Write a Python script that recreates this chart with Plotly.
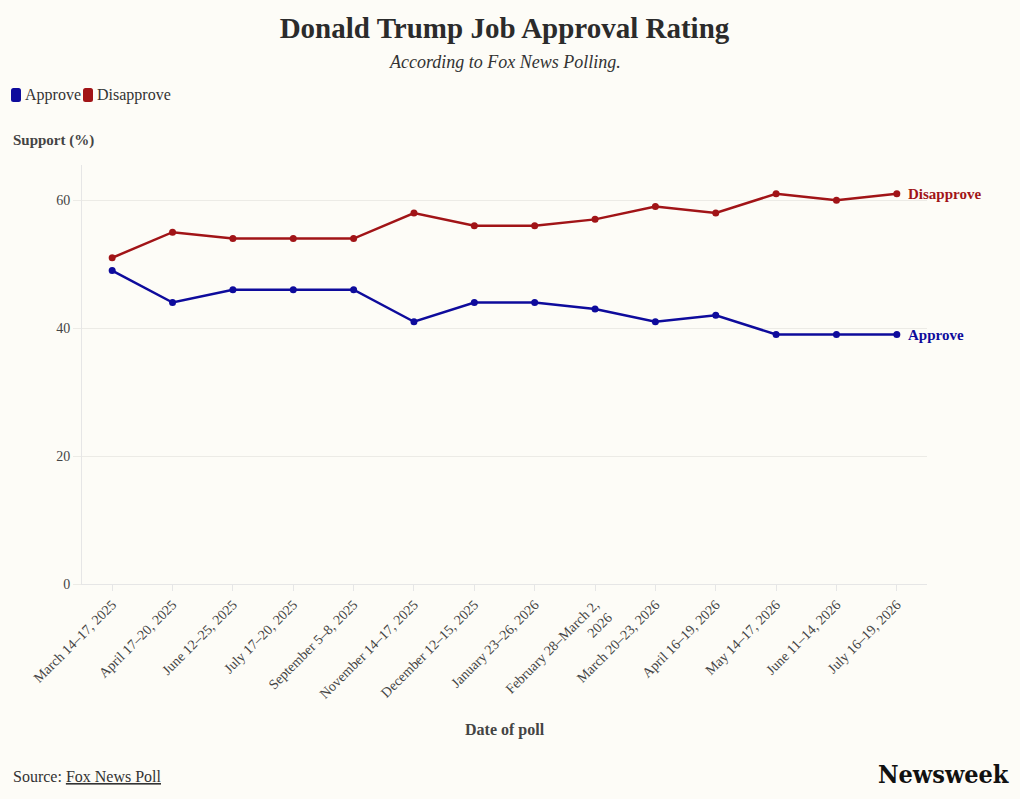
import plotly.graph_objects as go

dates = [
    "March 14–17, 2025", "April 17–20, 2025", "June 12–25, 2025", "July 17–20, 2025",
    "September 5–8, 2025", "November 14–17, 2025", "December 12–15, 2025",
    "January 23–26, 2026", "February 28–March 2,<br>2026", "March 20–23, 2026",
    "April 16–19, 2026", "May 14–17, 2026", "June 11–14, 2026", "July 16–19, 2026",
]
approve = [49, 44, 46, 46, 46, 41, 44, 44, 43, 41, 42, 39, 39, 39]
disapprove = [51, 55, 54, 54, 54, 58, 56, 56, 57, 59, 58, 61, 60, 61]
y_ticks = [0, 20, 40, 60]

BLUE = "#0e0b9c"
RED = "#a11417"
BG = "#fdfcf7"
FONT = "Liberation Serif"

L, T, PW, PH = 82, 165, 845, 419


def px(x):
    return (x - L) / PW


def py(y):
    return 1 - (y - T) / PH


fig = go.Figure()
for name, vals, col in [("Approve", approve, BLUE), ("Disapprove", disapprove, RED)]:
    fig.add_trace(go.Scatter(
        x=dates, y=vals, mode="lines+markers", name=name,
        line=dict(color=col, width=2.5), marker=dict(color=col, size=7),
        showlegend=False, hovertemplate="%{y}%<extra>" + name + "</extra>",
    ))
    fig.add_annotation(
        x=dates[-1], y=vals[-1], text="<b>" + name + "</b>", showarrow=False,
        xanchor="left", xshift=9, font=dict(family=FONT, size=15, color=col),
    )

# legend (custom)
for name, col, x0 in [("Approve", BLUE, 11), ("Disapprove", RED, 83)]:
    x1 = x0 + 10
    y0, y1 = 88, 102
    r = 2.5
    path = (f"M {px(x0 + r)} {py(y0)} L {px(x1 - r)} {py(y0)} Q {px(x1)} {py(y0)} {px(x1)} {py(y0 + r)} "
            f"L {px(x1)} {py(y1 - r)} Q {px(x1)} {py(y1)} {px(x1 - r)} {py(y1)} "
            f"L {px(x0 + r)} {py(y1)} Q {px(x0)} {py(y1)} {px(x0)} {py(y1 - r)} "
            f"L {px(x0)} {py(y0 + r)} Q {px(x0)} {py(y0)} {px(x0 + r)} {py(y0)} Z")
    fig.add_shape(type="path", path=path, xref="paper", yref="paper",
                  fillcolor=col, line=dict(width=0))
    fig.add_annotation(
        text=name, xref="paper", yref="paper", x=px(x1 + 1.5), y=py(95),
        xanchor="left", yanchor="middle", showarrow=False,
        font=dict(family=FONT, size=16, color="#333"),
    )

fig.update_layout(
    width=1020, height=799,
    paper_bgcolor=BG, plot_bgcolor=BG,
    margin=dict(l=L, r=1020 - L - PW, t=T, b=799 - T - PH),
    font=dict(family=FONT, color="#444"),
    title=dict(
        text="<b>Donald Trump Job Approval Rating</b>",
        x=0.5, xref="paper", xanchor="center", y=0.965, yanchor="middle",
        font=dict(family=FONT, size=29, color="#2b2b2b"),
    ),
    showlegend=False,
    xaxis=dict(
        type="category", range=[-0.5, 13.5], tickangle=-45, automargin=False,
        showgrid=False, showline=True, linecolor="#e6e6e6", linewidth=1,
        ticks="outside", ticklen=6, tickcolor="#e6e6e6",
        tickfont=dict(family=FONT, size=14, color="#444"),
    ),
    yaxis=dict(
        range=[0, 65.5], tickvals=y_ticks, showgrid=True, gridcolor="#ecebe6",
        showline=True, linecolor="#e6e6e6", zeroline=False, automargin=False,
        ticks="outside", ticklen=8, tickcolor="#ecebe6",
        tickfont=dict(family=FONT, size=14, color="#444"),
    ),
)

fig.add_annotation(
    text="<i>According to Fox News Polling.</i>", xref="paper", yref="paper",
    x=0.5, y=py(62), xanchor="center", yanchor="middle", showarrow=False,
    font=dict(family=FONT, size=18, color="#333"),
)
fig.add_annotation(
    text="<b>Support (%)</b>", xref="paper", yref="paper",
    x=px(11), y=py(140), xanchor="left", yanchor="middle", showarrow=False,
    font=dict(family=FONT, size=15, color="#444"),
)
fig.add_annotation(
    text="<b>Date of poll</b>", xref="paper", yref="paper",
    x=px(505), y=py(730), xanchor="center", yanchor="middle", showarrow=False,
    font=dict(family=FONT, size=16, color="#444"),
)
fig.add_annotation(
    text="Source: <u>Fox News Poll</u>", xref="paper", yref="paper",
    x=px(11), y=py(776), xanchor="left", yanchor="middle", showarrow=False,
    font=dict(family=FONT, size=16, color="#333"),
)
fig.add_annotation(
    text="<b>Newsweek</b>", xref="paper", yref="paper",
    x=px(1011), y=py(774), xanchor="right", yanchor="middle", showarrow=False,
    font=dict(family="DejaVu Serif Condensed", size=25, color="#111"),
)

fig.write_html("out.html")
